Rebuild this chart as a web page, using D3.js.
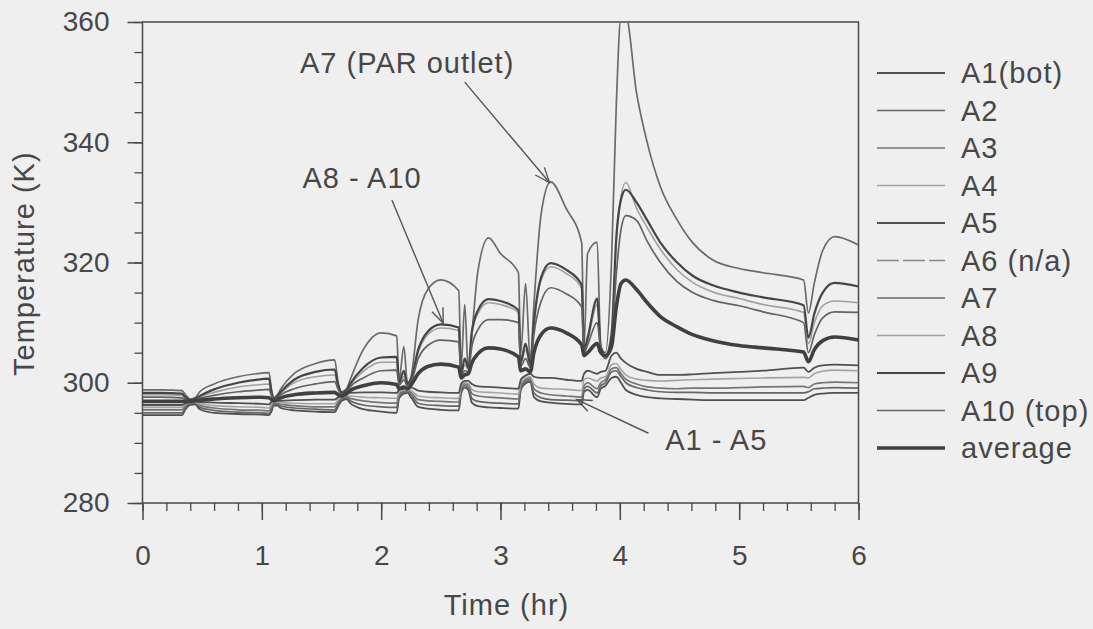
<!DOCTYPE html>
<html>
<head>
<meta charset="utf-8">
<script src="https://cdn.jsdelivr.net/npm/d3@7/dist/d3.min.js"></script>
<style>
  html, body { margin: 0; padding: 0; background: #efefef; }
  svg { display: block; font-family: "Liberation Sans", Arial, Helvetica, sans-serif; }
  .lbl { font-size: 29px; letter-spacing: 1px; }
</style>
</head>
<body>
<svg id="chart" width="1093" height="629"></svg>
<script>
// ---------- DATA ----------
const time = [0,0.15,0.33, 0.36,0.40,0.44, 0.48,0.6,0.8,1.0,1.06, 1.08,1.10,1.13,
  1.16,1.27,1.45,1.61, 1.64,1.67,1.71, 1.74,1.85,2.0,2.13, 2.15,2.19,2.22,
  2.25,2.31,2.39,2.5,2.65, 2.67,2.70,2.73, 2.76,2.81,2.9,3.0,3.15, 3.17,3.21,3.25,
  3.28,3.34,3.42,3.55,3.68, 3.70,3.73,3.81,3.84,3.88,
  3.93,3.97,4.01,4.05,4.14,4.23,4.34,4.48,4.61,4.78,5.0,5.2,5.54,
  5.58,5.63,5.7,5.8,6.0];

const A1 = [294.6,294.6,294.6, 295.6,296.3,296.4, 295.6,295.0,294.8,294.7,294.6, 295.2,296.2,296.2,
  295.8,295.4,295.2,295.1, 296.1,297.0,297.3, 296.6,295.6,295.2,295.0, 297.4,298.2,298.3,
  297.6,296.0,295.7,295.5,295.4, 298.2,299.2,298.8, 296.7,296.1,295.9,295.8,295.7, 298.8,299.9,300.2,
  297.6,296.9,296.7,296.5,296.4, 298.5,298.8,297.6,299.0,299.5,
  300.8,301.0,300.0,298.8,298.0,297.6,297.4,297.3,297.2,297.1,297.1,297.1,297.1,
  297.5,298.0,298.2,298.3,298.3];
const A2 = [295.0,295.0,295.0, 295.9,296.5,296.6, 295.9,295.4,295.1,295.0,294.9, 295.6,296.5,296.4,
  296.1,295.8,295.6,295.5, 296.5,297.3,297.5, 297.0,296.3,296.0,295.9, 297.8,298.4,298.5,
  298.0,296.6,296.3,296.2,296.1, 298.6,299.5,299.2, 297.4,296.9,296.7,296.6,296.5, 299.2,300.2,300.5,
  298.3,297.5,297.2,297.1,297.0, 299.0,299.4,298.3,299.5,300.0,
  301.8,302.0,301.0,300.0,299.2,298.8,298.5,298.4,298.4,298.3,298.3,298.3,298.3,
  298.5,299.0,299.1,299.2,299.1];
const A3 = [295.5,295.5,295.5, 296.2,296.7,296.7, 296.2,295.8,295.5,295.4,295.3, 296.0,296.7,296.6,
  296.4,296.2,296.0,296.0, 296.9,297.5,297.7, 297.4,297.0,296.7,296.6, 298.2,298.6,298.7,
  298.4,297.2,297.0,296.9,296.8, 299.0,299.8,299.6, 298.2,297.8,297.6,297.5,297.3, 299.6,300.5,300.8,
  299.0,298.3,298.0,297.8,297.6, 299.5,300.0,299.0,300.0,300.5,
  302.3,302.5,301.5,300.6,299.8,299.3,299.1,299.0,299.1,299.1,299.2,299.3,299.4,
  299.2,299.8,300.0,300.1,300.0];
const A4 = [295.9,295.9,295.9, 296.4,296.8,296.8, 296.5,296.2,296.0,295.9,295.8, 296.4,296.9,296.8,
  296.7,296.6,296.5,296.5, 297.2,297.7,297.9, 297.8,297.6,297.5,297.4, 298.5,298.8,298.9,
  298.7,297.8,297.6,297.5,297.4, 299.4,300.0,299.9, 298.9,298.5,298.4,298.3,298.1, 300.0,300.8,301.0,
  299.8,299.1,299.0,298.9,298.7, 300.5,300.8,300.3,300.8,301.0,
  303.0,303.2,302.2,301.3,300.6,300.4,300.3,300.4,300.5,300.6,300.7,300.8,300.9,
  300.8,301.5,301.9,302.1,302.0];
const A5 = [296.3,296.3,296.3, 296.6,296.9,296.9, 296.8,296.7,296.6,296.5,296.4, 296.8,297.0,297.0,
  297.0,297.1,297.2,297.2, 297.6,297.9,298.1, 298.3,298.4,298.4,298.3, 298.8,299.0,299.2,
  299.2,298.7,298.5,298.4,298.3, 299.8,300.3,300.3, 299.8,299.4,299.3,299.2,299.0, 300.5,301.2,301.5,
  301.0,300.8,300.8,300.5,300.3, 301.5,302.0,301.5,301.8,302.0,
  304.5,305.0,304.0,303.3,302.3,301.8,301.3,301.3,301.4,301.6,301.8,302.0,302.5,
  301.8,302.5,302.9,303.0,302.9];
const A6 = []; // n/a
const A7 = [298.8,298.8,298.7, 298.0,297.3,297.5, 298.5,299.8,301.0,301.6,301.7, 299.0,297.5,298.0,
  299.0,301.5,303.2,303.8, 300.0,298.5,299.0, 300.5,305.5,308.3,307.8, 300.5,306.0,300.0,
  301.0,310.5,315.5,317.1,315.3, 302.5,313.0,302.0, 308.0,318.5,324.1,321.5,318.3, 305.0,316.5,303.5,
  313.0,328.0,333.4,329.0,323.3, 306.0,321.5,323.4,306.0,305.0,
  320.0,346.0,361.0,361.0,348.2,339.9,332.6,327.1,323.3,320.4,319.0,318.3,317.1,
  311.6,316.6,322.0,324.3,322.9];
const A8 = [298.0,298.0,297.9, 297.4,297.0,297.2, 297.6,298.4,299.3,299.7,299.8, 298.2,297.2,297.7,
  298.3,300.0,301.0,301.3, 299.2,298.2,298.7, 299.6,301.9,303.4,303.4, 299.8,301.0,299.6,
  300.3,305.0,308.0,309.1,308.7, 301.3,303.0,302.2, 308.0,311.5,313.3,313.0,311.7, 303.3,305.5,302.8,
  309.5,317.0,319.3,318.2,315.7, 305.3,307.0,313.0,305.8,304.3,
  307.5,323.5,331.0,333.3,329.0,325.8,322.2,318.8,316.7,315.1,314.0,313.0,311.7,
  306.5,310.0,312.8,313.6,313.3];
const A9 = [298.3,298.3,298.2, 297.6,297.1,297.3, 297.8,298.9,300.0,300.6,300.7, 298.5,297.3,297.8,
  298.5,300.5,301.8,302.2, 299.5,298.3,298.8, 299.8,302.5,304.2,304.3, 300.0,302.0,299.8,
  300.5,305.5,308.5,309.7,309.2, 301.5,304.0,302.5, 308.5,312.0,313.9,313.6,312.1, 303.5,306.5,303.0,
  310.0,317.5,319.9,318.8,316.3, 305.5,307.5,314.0,306.0,304.5,
  308.0,324.0,330.5,332.1,330.0,327.0,323.3,320.0,317.8,316.2,315.0,314.2,312.9,
  307.5,311.5,315.0,316.6,316.0];
const A10 = [297.6,297.6,297.5, 297.2,296.9,297.1, 297.4,297.9,298.5,298.8,298.9, 297.9,297.1,297.5,
  298.0,299.0,299.8,300.2, 298.9,298.0,298.5, 299.3,300.8,302.0,302.1, 299.6,300.5,299.4,
  300.0,304.0,306.2,307.1,306.8, 301.0,302.0,301.8, 306.0,308.8,310.5,310.5,310.0, 302.8,304.0,302.5,
  308.0,313.5,315.8,314.8,312.6, 305.0,306.3,310.0,305.5,304.0,
  306.5,318.0,325.5,327.8,327.0,323.5,320.0,316.8,315.0,313.7,312.8,311.8,310.0,
  305.0,308.0,310.8,311.8,311.7];
const average = [296.9,296.9,296.9, 296.9,296.9,297.0, 297.1,297.3,297.5,297.6,297.5, 297.2,297.0,297.2,
  297.5,298.0,298.3,298.4, 298.0,297.8,298.2, 298.7,299.5,300.0,299.7, 299.0,299.3,299.0,
  299.6,301.5,302.7,303.1,302.6, 300.8,301.3,301.5, 303.3,304.8,305.8,305.6,304.3, 302.0,302.3,301.8,
  305.0,308.0,309.1,308.3,306.3, 304.5,305.0,306.5,305.0,304.5,
  306.0,312.5,316.5,317.1,315.5,313.3,311.0,309.3,308.0,307.0,306.2,305.8,305.1,
  303.5,305.5,307.0,307.6,307.1];

const seriesNames = ["A1(bot)","A2","A3","A4","A5","A6 (n/a)","A7","A8","A9","A10 (top)","average"];
const seriesValues = [A1,A2,A3,A4,A5,A6,A7,A8,A9,A10,average];
const xTicks = [0,1,2,3,4,5,6];
const yTicks = [280,300,320,340,360];

// ---------- STYLE ----------
const styles = [
  {c:"#505050", w:1.8}, {c:"#666", w:1.7}, {c:"#747474", w:1.7}, {c:"#a4a4a4", w:1.6}, {c:"#505050", w:1.8},
  {c:"#888", w:1.5, dash:"22,4"}, {c:"#6a6a6a", w:1.7}, {c:"#a0a0a0", w:1.6}, {c:"#454545", w:2.2},
  {c:"#636363", w:1.7}, {c:"#404040", w:3.6}
];
const ink = "#474747";

const svg = d3.select("#chart");
const x = d3.scaleLinear().domain([0,6]).range([142.5, 858.5]);
const y = d3.scaleLinear().domain([280,360]).range([503, 22]);

svg.append("defs").append("clipPath").attr("id","clip")
  .append("rect").attr("x", x(0)).attr("y", y(360)).attr("width", x(6)-x(0)).attr("height", y(280)-y(360));

// minor ticks
const xMinor = d3.axisBottom(x).tickValues(d3.range(0, 6.001, 0.2)).tickSize(8).tickFormat("");
const yMinor = d3.axisLeft(y).tickValues(d3.range(280, 360.001, 5)).tickSize(8).tickFormat("");
svg.append("g").attr("transform", `translate(0,${y(280)})`).call(xMinor)
  .call(g => g.select(".domain").remove())
  .call(g => g.selectAll("line").attr("stroke", ink).attr("stroke-width", 1.3));
svg.append("g").attr("transform", `translate(${x(0)},0)`).call(yMinor)
  .call(g => g.select(".domain").remove())
  .call(g => g.selectAll("line").attr("stroke", ink).attr("stroke-width", 1.3));

// major ticks
const xAxis = d3.axisBottom(x).tickValues(xTicks).tickSize(17).tickPadding(25).tickFormat(d3.format("d"));
const yAxis = d3.axisLeft(y).tickValues(yTicks).tickSize(15).tickPadding(18).tickFormat(d3.format("d"));
svg.append("g").attr("transform", `translate(0,${y(280)})`).call(xAxis)
  .call(g => g.select(".domain").remove())
  .call(g => g.selectAll("line").attr("stroke", ink).attr("stroke-width", 1.5))
  .call(g => g.selectAll("text").attr("fill", ink).style("font-size","28px").style("font-family","Liberation Sans, Arial, sans-serif"));
svg.append("g").attr("transform", `translate(${x(0)},0)`).call(yAxis)
  .call(g => g.select(".domain").remove())
  .call(g => g.selectAll("line").attr("stroke", ink).attr("stroke-width", 1.5))
  .call(g => g.selectAll("text").attr("fill", ink).style("font-size","28px").style("font-family","Liberation Sans, Arial, sans-serif"));

// frame
svg.append("rect").attr("x", x(0)).attr("y", y(360)).attr("width", x(6)-x(0)).attr("height", y(280)-y(360))
  .attr("fill","none").attr("stroke", ink).attr("stroke-width", 1.5);

// lines
const line = d3.line().x(d => x(d[0])).y(d => y(d[1])).curve(d3.curveMonotoneX);
const plot = svg.append("g").attr("clip-path","url(#clip)");
seriesValues.forEach((vals, i) => {
  if (!vals.length) return;
  const pts = vals.map((v, k) => [time[k], v]);
  plot.append("path").datum(pts).attr("d", line)
    .attr("fill","none").attr("stroke", styles[i].c).attr("stroke-width", styles[i].w)
    .attr("stroke-linejoin","round");
});

// axis titles
svg.append("text").attr("class","lbl").attr("x", x(3.05)).attr("y", 615).attr("text-anchor","middle")
  .attr("fill", ink).text("Time (hr)");
svg.append("text").attr("class","lbl").attr("transform", `translate(34,${y(319.8)}) rotate(-90)`).attr("text-anchor","middle")
  .attr("fill", ink).text("Temperature (K)");

// annotations (positions in data units)
const annotations = [
  {text:"A7 (PAR outlet)", tx:1.32, ty:351.5, from:[2.70,350.0], to:[3.41,333.3]},
  {text:"A8 - A10", tx:1.34, ty:332.4, from:[2.09,330.4], to:[2.52,309.9]},
  {text:"A1 - A5", tx:4.38, ty:288.8, from:[4.24,291.6], to:[3.64,297.2]}
];
annotations.forEach(a => {
  svg.append("text").attr("class","lbl").attr("x", x(a.tx)).attr("y", y(a.ty)).attr("fill", ink).text(a.text);
  const x1 = x(a.from[0]), y1 = y(a.from[1]), x2 = x(a.to[0]), y2 = y(a.to[1]);
  svg.append("line").attr("x1",x1).attr("y1",y1).attr("x2",x2).attr("y2",y2)
    .attr("stroke","#555").attr("stroke-width",1.4);
  const ang = Math.atan2(y2-y1, x2-x1), L = 16, spread = 0.38;
  const p1 = [x2 - L*Math.cos(ang-spread), y2 - L*Math.sin(ang-spread)];
  const p2 = [x2 - L*Math.cos(ang+spread), y2 - L*Math.sin(ang+spread)];
  svg.append("path").attr("d", `M${p1[0]},${p1[1]}L${x2},${y2}L${p2[0]},${p2[1]}`)
    .attr("fill","none").attr("stroke","#555").attr("stroke-width",1.4);
});

// legend
const legend = svg.append("g");
seriesNames.forEach((name, i) => {
  const ly = 73 + i*37.5;
  legend.append("line").attr("x1", 877).attr("x2", 945).attr("y1", ly).attr("y2", ly)
    .attr("stroke", styles[i].c).attr("stroke-width", styles[i].w)
    .attr("stroke-dasharray", styles[i].dash || null);
  legend.append("text").attr("class","lbl").attr("x", 961).attr("y", ly).attr("dy","0.36em").attr("fill", ink).text(name);
});
</script>
</body>
</html>
